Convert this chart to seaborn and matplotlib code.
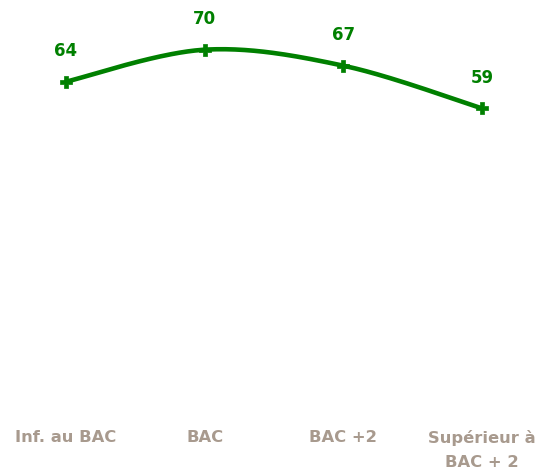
import numpy as np
import pandas as pd
import matplotlib
matplotlib.use("Agg")
import matplotlib.pyplot as plt
import seaborn as sns

categories = ["Inf. au BAC", "BAC", "BAC +2", "Supérieur à\nBAC + 2"]
values = [64, 70, 67, 59]

GREEN = "#008000"
LABEL = "#A89A8E"

sns.set_theme(style="white")
plt.rcParams['font.family'] = ['DejaVu Sans']

fig = plt.figure(figsize=(5.41, 4.72), dpi=100)
ax = fig.add_axes([0, (472 - 423) / 472, 1, 423 / 472])

df = pd.DataFrame({"x": np.arange(len(values)), "y": values})

# smooth (Excel-like) Bezier rendering of the series
P = df[["x", "y"]].to_numpy(dtype=float)
n = len(P)
curve = []
for i in range(n - 1):
    p0 = P[i - 1] if i > 0 else P[i]
    p1 = P[i]
    p2 = P[i + 1]
    p3 = P[i + 2] if i + 2 < n else P[i + 1]
    c1 = p1 + (p2 - p0) / 6
    c2 = p2 - (p3 - p1) / 6
    t = np.linspace(0, 1, 60)[:, None]
    seg = (1 - t) ** 3 * p1 + 3 * (1 - t) ** 2 * t * c1 + 3 * (1 - t) * t ** 2 * c2 + t ** 3 * p2
    curve.append(seg if i == 0 else seg[1:])
curve = np.vstack(curve)
ax.plot(curve[:, 0], curve[:, 1], color=GREEN, lw=3.3, solid_capstyle="round", zorder=2)

sns.scatterplot(data=df, x="x", y="y", marker="P", s=85, color=GREEN,
                edgecolor=GREEN, linewidth=0.5, ax=ax, zorder=3)

for xi, yi in zip(df["x"], df["y"]):
    ax.annotate(f"{yi}", (xi, yi), xytext=(0, 22), textcoords="offset points",
                ha="center", va="center", color=GREEN, fontsize=12,
                fontweight="bold")

ax.set_xlim(-66 / 138.67, (541 - 66) / 138.67)
ax.set_ylim(0, 423 / 5.333)
ax.set_xticks(df["x"])
ax.set_xticklabels(categories, color=LABEL, fontsize=11.8, fontweight="bold",
                   linespacing=1.75, va="top")
ax.tick_params(axis="x", length=0, pad=5)
ax.set_yticks([])
ax.set_xlabel("")
ax.set_ylabel("")
for s in ax.spines.values():
    s.set_visible(False)

fig.savefig("out.png", dpi=100)
